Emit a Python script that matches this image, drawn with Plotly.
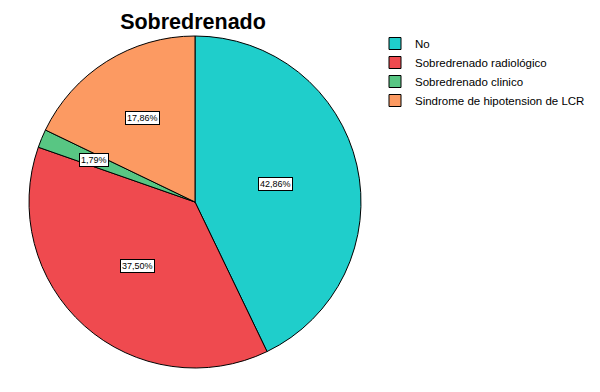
import math
import plotly.graph_objects as go

categories = ["No", "Sobredrenado radiológico", "Sobredrenado clinico", "Sindrome de hipotension de LCR"]
values = [42.86, 37.50, 1.79, 17.86]
value_labels = ["42,86%", "37,50%", "1,79%", "17,86%"]
colors = ["#1fcecb", "#ef4a4f", "#58c683", "#fc9a62"]
label_radius = [0.50, 0.52, 0.66, 0.60]  # fraction of pie radius where each label box sits

W, H = 600, 392
OFF = 8  # page body margin of the html page
cx_px, cy_px, r_px = 195 - OFF, 202 - OFF, 166

fig = go.Figure(go.Pie(
    labels=categories,
    values=values,
    sort=False,
    direction="clockwise",
    rotation=0,
    marker=dict(colors=colors, line=dict(color="black", width=1)),
    textinfo="none",
    hoverinfo="label+percent",
    domain=dict(x=[(cx_px - r_px) / W, (cx_px + r_px) / W],
                y=[1 - (cy_px + r_px) / H, 1 - (cy_px - r_px) / H]),
    showlegend=True,
))

total = sum(values)
cum = 0.0
for v, lab, fr in zip(values, value_labels, label_radius):
    mid = (cum + v / 2) / total * 2 * math.pi
    cum += v
    dx = math.sin(mid) * r_px * fr
    dy = -math.cos(mid) * r_px * fr
    fig.add_annotation(
        x=(cx_px + dx) / W, y=1 - (cy_px + dy) / H,
        xref="paper", yref="paper", xanchor="center", yanchor="middle",
        text=lab, showarrow=False,
        font=dict(family="Liberation Sans Narrow, Arial Narrow, Arial", size=9, color="black"),
        bgcolor="white", bordercolor="black", borderwidth=1, borderpad=1,
    )

fig.update_layout(
    width=W, height=H,
    margin=dict(l=0, r=0, t=0, b=0, autoexpand=False),
    paper_bgcolor="white",
    title=dict(text="<b>Sobredrenado</b>", x=(193 - OFF) / W, xanchor="center",
               y=1 - (21 - OFF) / H, yanchor="middle",
               font=dict(family="Arial", size=21.5, color="black")),
    legend=dict(x=(375 - OFF) / W, y=1 - (29 - OFF) / H, xanchor="left", yanchor="top",
                font=dict(family="Arial", size=11.5, color="black"),
                tracegroupgap=0, itemwidth=30),
)

fig.write_html("out.html")
